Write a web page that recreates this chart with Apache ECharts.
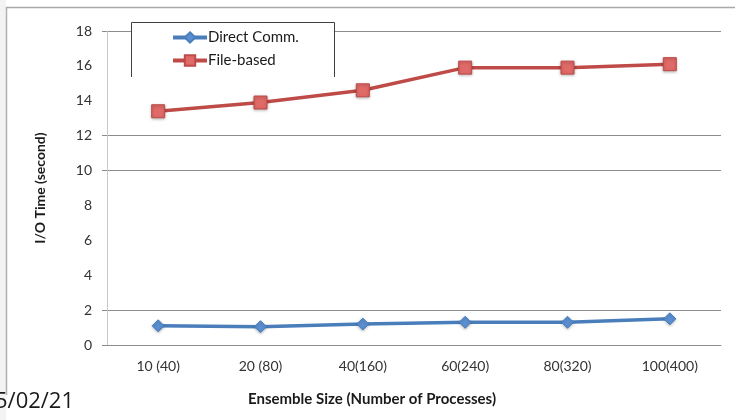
<!DOCTYPE html>
<html>
<head>
<meta charset="utf-8">
<style>
  html, body { margin: 0; padding: 0; background: #ffffff; }
  #chart { width: 735px; height: 420px; }
</style>
<script src="https://cdn.jsdelivr.net/npm/echarts@6/dist/echarts.min.js"></script>
</head>
<body>
<div id="chart"></div>
<script>
// Ensemble sizes (number of processes in parentheses)
const categories = ['10 (40)', '20 (80)', '40(160)', '60(240)', '80(320)', '100(400)'];
// I/O time in seconds
const directComm = [1.1, 1.05, 1.2, 1.3, 1.3, 1.5];
const fileBased = [13.4, 13.9, 14.6, 15.9, 15.9, 16.1];
// Value-axis labels and the subset that carries a ruled gridline
const yTickLabels = [0, 2, 4, 6, 8, 10, 12, 14, 16, 18];
const ruledTicks = [0, 2, 10, 12, 18];

const FONT = 'Lato, "Open Sans", sans-serif';
const chart = echarts.init(document.getElementById('chart'), null, { renderer: 'canvas' });

chart.setOption({
  animation: false,
  backgroundColor: '#ffffff',
  textStyle: { fontFamily: FONT },
  grid: { left: 107, right: 14, top: 31, bottom: 75, containLabel: false },
  legend: {
    orient: 'vertical',
    left: 166,
    top: 25,
    itemGap: 8,
    itemWidth: 34,
    itemHeight: 13,
    lineStyle: { width: 4 },
    textStyle: { fontSize: 15, color: '#1a1a1a', fontFamily: FONT, padding: [0, 0, 0, -4] },
    data: ['Direct Comm.', 'File-based'],
    z: 20
  },
  xAxis: {
    type: 'category',
    data: categories,
    boundaryGap: true,
    name: 'Ensemble Size (Number of Processes)',
    nameLocation: 'middle',
    nameGap: 47,
    nameTextStyle: { fontSize: 15, fontWeight: 'bold', color: '#1a1a1a', fontFamily: FONT, padding: [0, 84, 0, 0] },
    axisLine: { show: true, lineStyle: { color: '#8c8c8c', width: 1 } },
    axisTick: { show: false },
    axisLabel: { margin: 14, fontSize: 14, color: '#333333', fontFamily: FONT },
    splitLine: { show: false }
  },
  yAxis: {
    type: 'value',
    min: 0,
    max: 18,
    interval: 2,
    name: 'I/O Time (second)',
    nameLocation: 'middle',
    nameGap: 60,
    nameRotate: 90,
    nameTextStyle: { fontSize: 14, fontWeight: 'bold', color: '#1a1a1a', fontFamily: FONT },
    axisLine: { show: true, lineStyle: { color: '#c8c8c8', width: 1 } },
    axisTick: { show: true, length: 5, customValues: ruledTicks, lineStyle: { color: '#8c8c8c', width: 1 } },
    axisLabel: { margin: 15, fontSize: 14, color: '#333333', fontFamily: FONT, customValues: yTickLabels },
    splitLine: { show: true, lineStyle: { color: '#8c8c8c', width: 1 } }
  },
  series: [
    {
      name: 'Direct Comm.',
      type: 'line',
      data: directComm,
      symbol: 'diamond',
      symbolSize: 12,
      lineStyle: { color: '#4a7ebb', width: 3.5 },
      itemStyle: {
        color: '#5b8fd1',
        borderColor: '#4a7ebb',
        borderWidth: 1,
        shadowColor: 'rgba(0,0,0,0.25)',
        shadowBlur: 3,
        shadowOffsetY: 1
      },
      z: 3
    },
    {
      name: 'File-based',
      type: 'line',
      data: fileBased,
      symbol: 'rect',
      symbolSize: 13,
      lineStyle: { color: '#be4b48', width: 3.5 },
      itemStyle: {
        color: '#e06a67',
        borderColor: '#be4b48',
        borderWidth: 1,
        shadowColor: 'rgba(0,0,0,0.3)',
        shadowBlur: 3,
        shadowOffsetY: 1
      },
      z: 3
    }
  ],
  graphic: [
    // slide margin strip on the left
    { type: 'rect', shape: { x: 0, y: 0, width: 6, height: 420 }, style: { fill: '#f3f3f3' }, z: 0 },
    // chart-area frame (left and top edges)
    { type: 'line', shape: { x1: 6.5, y1: 7, x2: 6.5, y2: 395 }, style: { stroke: '#b0b0b0', lineWidth: 1.5 }, z: 1 },
    { type: 'line', shape: { x1: 6, y1: 7.5, x2: 735, y2: 7.5 }, style: { stroke: '#a8a8a8', lineWidth: 1.5 }, z: 1 },
    // legend box: white fill over the top gridline, open at the bottom
    { type: 'rect', shape: { x: 131, y: 22, width: 203, height: 55 }, style: { fill: '#ffffff' }, z: 10 },
    { type: 'polyline', shape: { points: [[131.5, 77], [131.5, 22.5], [334.5, 22.5], [334.5, 77]] },
      style: { stroke: '#404040', lineWidth: 1, fill: null }, z: 11 },
    // slide footer date
    { type: 'text', left: -5, top: 391, style: { text: '5/02/21', font: '22px "Open Sans", sans-serif', fill: '#1a1a1a' }, z: 30 }
  ]
});
</script>
</body>
</html>
